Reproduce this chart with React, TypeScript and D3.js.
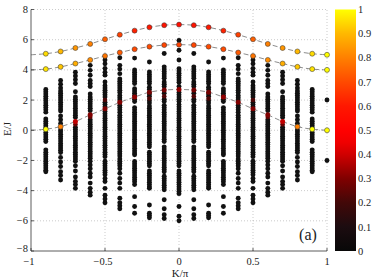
import React from "react";
import * as d3 from "d3";

// ---- data ----
const xTicks = [-1, -0.5, 0, 0.5, 1];
const yTicks = [-8, -6, -4, -2, 0, 2, 4, 6, 8];
const cbTicks = [0, 0.1, 0.2, 0.3, 0.4, 0.5, 0.6, 0.7, 0.8, 0.9, 1];

// colormap stops (value -> colour)
const cmapStops = [0, 0.1, 0.2, 0.3, 0.4, 0.45, 0.5, 0.6, 0.7, 0.8, 0.9, 1];
const cmapColors = ["#080808", "#1c0c10", "#420808", "#800000", "#d00000", "#f00000", "#ff0000", "#ff1800", "#ff4a00", "#ff8000", "#ffb800", "#ffff00"];

// dashed branch curves, sampled at K/π
const lineK = [-1, -0.9, -0.8, -0.7, -0.6, -0.5, -0.4, -0.3, -0.2, -0.1, 0, 0.1, 0.2, 0.3, 0.4, 0.5, 0.6, 0.7, 0.8, 0.9, 1];
const topE = [5.0, 5.07, 5.22, 5.45, 5.72, 6.03, 6.33, 6.6, 6.82, 6.96, 7.0, 6.96, 6.82, 6.6, 6.33, 6.03, 5.72, 5.45, 5.22, 5.07, 5.0];
const midE = [4.0, 4.05, 4.2, 4.42, 4.66, 4.92, 5.15, 5.37, 5.54, 5.64, 5.67, 5.64, 5.54, 5.37, 5.15, 4.92, 4.66, 4.42, 4.2, 4.05, 4.0];
const lowE = [0.0, 0.07, 0.24, 0.58, 1.02, 1.42, 1.85, 2.2, 2.52, 2.66, 2.7, 2.66, 2.52, 2.2, 1.85, 1.42, 1.02, 0.58, 0.24, 0.07, 0.0];
// weights of the coloured dots on the branches (K = -1 excluded)
const topW = [0, 0.95, 0.9, 0.84, 0.8, 0.74, 0.68, 0.62, 0.6, 0.58, 0.56, 0.58, 0.6, 0.62, 0.68, 0.74, 0.8, 0.84, 0.9, 0.95, 1.0];
const midW = [0, 0.96, 0.92, 0.88, 0.82, 0.78, 0.73, 0.7, 0.7, 0.69, 0.68, 0.69, 0.7, 0.7, 0.73, 0.78, 0.82, 0.88, 0.92, 0.96, 1.0];
const lowW = [0, 1.0, 0.8, 0.38, 0.3, 0.3, 0.3, 0.32, 0.28, 0.28, 0.32, 0.28, 0.28, 0.32, 0.3, 0.3, 0.3, 0.38, 0.8, 1.0, 1.0];

// black (zero-weight) eigenvalues per column |K/π|
const e09 = [2.7, 2.55, 2.4, 2.25, 2.1, 1.95, 1.8, 1.65, 1.5, 1.35, 1.2, 0.75, 0.6, 0.45, 0.3, 0.15, -0.15, -0.3, -0.45, -0.6, -0.75, -1.3, -1.45, -1.6, -1.75, -1.9, -2.05, -2.2, -2.35, -2.5, -2.65, -2.75];
const e08 = [3.3, 3.05, 2.8, 2.6, 2.45, 2.3, 2.15, 2.0, 1.85, 1.7, 1.55, 1.4, 1.28, 0.95, 0.7, 0.45, 0.02, -0.12, -0.27, -0.42, -0.57, -0.72, -0.87, -1.02, -1.17, -1.32, -1.47, -1.8, -2.1, -2.4, -2.75, -3.0, -3.3];
const e07 = [3.85, 3.6, 3.35, 3.1, 2.55, 2.2, 2.05, 1.9, 1.75, 1.6, 1.45, 1.3, 1.15, 1.0, 0.85, 0.2, 0.05, -0.1, -0.25, -0.4, -0.55, -0.7, -0.85, -1.0, -1.15, -1.3, -1.45, -1.6, -1.75, -1.9, -2.05, -2.35, -2.7, -3.1, -3.4, -3.6, -3.85];
const e06 = [4.3, 3.97, 3.64, 3.3, 3.1, 2.9, 2.4, 2.2, 2.05, 1.9, 1.75, 1.6, 1.45, 1.3, 0.7, 0.55, 0.4, 0.25, 0.1, -0.05, -0.2, -0.35, -0.5, -0.65, -0.8, -0.95, -1.1, -1.25, -1.4, -1.55, -1.7, -1.85, -2.05, -2.3, -2.55, -2.85, -3.1, -3.5, -3.85, -4.1, -4.3];
const e05 = [4.65, 4.4, 4.1, 3.85, 3.65, 3.2, 2.95, 2.8, 2.65, 2.5, 2.35, 2.2, 1.85, 1.7, 1.55, 1.25, 1.1, 0.95, 0.8, 0.65, 0.5, 0.35, 0.2, 0.05, -0.1, -0.25, -0.4, -0.55, -0.7, -0.85, -1.0, -1.15, -1.3, -1.45, -1.6, -1.75, -2.05, -2.2, -2.35, -2.5, -2.65, -2.8, -2.95, -3.2, -3.4, -3.85, -4.3, -4.55, -4.8];
const e04 = [4.8, 4.3, 4.05, 3.75, 3.4, 3.25, 3.1, 2.95, 2.8, 2.65, 2.5, 2.3, 2.15, 2.0, 1.65, 1.5, 1.35, 1.2, 1.0, 0.85, 0.7, 0.55, 0.4, 0.25, 0.1, -0.05, -0.2, -0.35, -0.5, -0.65, -0.8, -0.95, -1.1, -1.25, -1.4, -1.55, -1.7, -1.9, -2.05, -2.2, -2.35, -2.55, -2.85, -3.2, -3.5, -3.85, -4.5, -4.8, -5.0, -5.2];
const e03 = [4.78, 4.0, 3.85, 3.7, 3.55, 3.4, 3.25, 3.1, 2.75, 2.6, 2.45, 2.3, 2.05, 1.9, 1.5, 1.35, 1.2, 1.05, 0.9, 0.75, 0.6, 0.45, 0.3, 0.15, 0.0, -0.15, -0.3, -0.45, -0.6, -0.75, -0.9, -1.05, -1.2, -1.35, -1.5, -1.63, -2.07, -2.22, -2.37, -2.52, -2.67, -2.82, -2.97, -3.12, -3.27, -3.42, -3.6, -4.4, -5.05, -5.5];
const e02 = [4.52, 3.86, 3.7, 3.55, 3.4, 3.25, 3.1, 2.85, 2.7, 2.4, 2.25, 1.95, 1.8, 1.6, 1.45, 1.3, 1.15, 1.0, 0.85, 0.7, 0.55, 0.4, 0.25, 0.1, -0.05, -0.2, -0.35, -0.5, -0.65, -0.8, -0.95, -1.1, -1.45, -1.6, -1.75, -1.9, -2.05, -2.2, -2.35, -2.7, -2.85, -3.0, -3.15, -3.3, -3.45, -3.6, -3.75, -3.85, -4.95, -5.5, -5.65, -5.8];
const e01 = [5.08, 4.2, 4.05, 3.9, 3.75, 3.6, 3.45, 3.2, 3.05, 2.9, 2.45, 2.05, 1.9, 1.65, 1.5, 1.35, 1.2, 1.05, 0.9, 0.75, 0.6, 0.45, 0.3, 0.15, 0.0, -0.15, -0.3, -0.45, -0.6, -0.75, -1.1, -1.25, -1.4, -1.55, -1.7, -1.85, -2.0, -2.15, -2.3, -2.45, -2.6, -2.75, -3.05, -3.2, -3.35, -3.5, -3.65, -3.8, -3.95, -4.6, -5.2, -5.6, -5.85];
const e00 = [5.95, 5.3, 4.65, 4.08, 3.93, 3.78, 3.63, 3.48, 3.33, 3.18, 2.9, 2.5, 2.35, 2.2, 2.05, 1.9, 1.7, 1.55, 1.4, 1.25, 1.1, 0.95, 0.8, 0.65, 0.5, 0.35, 0.2, 0.05, -0.1, -0.25, -0.4, -0.55, -0.7, -0.85, -1.0, -1.15, -1.3, -1.45, -1.6, -1.75, -1.9, -2.05, -2.2, -2.35, -2.7, -2.85, -3.0, -3.15, -3.3, -3.45, -3.6, -3.75, -3.9, -4.05, -4.2, -5.05, -5.7, -6.0];
const e10 = [2.0, -2.0];

const columnK = [-0.9, -0.8, -0.7, -0.6, -0.5, -0.4, -0.3, -0.2, -0.1, 0, 0.1, 0.2, 0.3, 0.4, 0.5, 0.6, 0.7, 0.8, 0.9, 1];
const columnE = [e09, e08, e07, e06, e05, e04, e03, e02, e01, e00, e01, e02, e03, e04, e05, e06, e07, e08, e09, e10];

// faintly weighted extra dots (dark red)
const tintK = [-0.7, 0.7, -0.6, 0.6, -0.5, 0.5, -0.2, 0.2, -0.1, 0.1];
const tintE = [0.4, 0.4, 0.88, 0.88, 2.0, 2.0, 2.1, 2.1, 2.25, 2.25];
const tintW = [0.26, 0.26, 0.24, 0.24, 0.22, 0.22, 0.22, 0.22, 0.22, 0.22];

const W = 374, H = 280;
const FONT = "'Liberation Serif', 'DejaVu Serif', serif";
const fmt = (v: number) => (v < 0 ? "\u2212" + String(Math.abs(v)) : String(v));

export default function App() {
  const x = d3.scaleLinear().domain([-1, 1]).range([31, 327]);
  const y = d3.scaleLinear().domain([-8, 8]).range([251, 9.5]);
  const cmap = d3.scaleLinear<string>().domain(cmapStops).range(cmapColors).interpolate(d3.interpolateRgb).clamp(true);
  const cbY = d3.scaleLinear().domain([0, 1]).range([251, 9.5]);

  const line = d3
    .line<number>()
    .x((_, i) => x(lineK[i]))
    .y((d) => y(d))
    .curve(d3.curveCatmullRom);

  const blackDots: { k: number; e: number }[] = [];
  columnK.forEach((k, i) => columnE[i].forEach((e) => blackDots.push({ k, e })));

  const coloured: { k: number; e: number; w: number; low: boolean }[] = [];
  lineK.forEach((k, i) => {
    if (i === 0) return;
    coloured.push({ k, e: lowE[i], w: lowW[i], low: true });
    coloured.push({ k, e: midE[i], w: midW[i], low: false });
    coloured.push({ k, e: topE[i], w: topW[i], low: false });
  });

  const [x0, x1] = x.range();
  const [y0, y1] = y.range();

  return (
    <svg width={W} height={H} style={{ position: "absolute", left: 0, top: 0, display: "block", background: "#fff" }} fontFamily={FONT}>
      <defs>
        <linearGradient id="cb" x1="0" y1="1" x2="0" y2="0">
          {cmapStops.map((s, i) => (
            <stop key={i} offset={s} stopColor={cmapColors[i]} />
          ))}
        </linearGradient>
      </defs>
      {/* grid */}
      <g stroke="#b4b4b4" strokeWidth={0.7} strokeDasharray="1,2">
        {xTicks.slice(1).map((t) => (
          <line key={"gx" + t} x1={x(t)} x2={x(t)} y1={y0} y2={y1} />
        ))}
        {yTicks.slice(1).map((t) => (
          <line key={"gy" + t} x1={x0} x2={x1} y1={y(t)} y2={y(t)} />
        ))}
      </g>
      {/* black dots */}
      <g fill="#111">
        {blackDots.map((d, i) => (
          <circle key={i} cx={x(d.k)} cy={y(d.e)} r={2.45} />
        ))}
      </g>
      {/* dashed branches */}
      <g fill="none" stroke="#6e6e6e" strokeWidth={0.8} strokeDasharray="5,3">
        <path d={line(topE) || ""} />
        <path d={line(midE) || ""} />
        <path d={line(lowE) || ""} />
      </g>
      {/* tinted dots */}
      {tintK.map((k, i) => (
        <circle key={"t" + i} cx={x(k)} cy={y(tintE[i])} r={2.3} fill={cmap(tintW[i])} />
      ))}
      {/* coloured branch dots */}
      {coloured.map((d, i) => (
        <circle
          key={"c" + i}
          cx={x(d.k)}
          cy={y(d.e)}
          r={2.5}
          fill={cmap(d.w)}
          stroke={d.low && d.w < 0.5 ? "none" : "#3a3a3a"}
          strokeWidth={0.55}
        />
      ))}
      {/* axes */}
      <g stroke="#333" strokeWidth={0.8}>
        <line x1={x0} x2={x0} y1={y0} y2={y1} />
        <line x1={x0} x2={x1} y1={y0} y2={y0} />
        {yTicks.map((t) => (
          <line key={"ty" + t} x1={x0} x2={x0 + 3} y1={y(t)} y2={y(t)} />
        ))}
        {xTicks.map((t) => (
          <line key={"tx" + t} x1={x(t)} x2={x(t)} y1={y0} y2={y0 - 3} />
        ))}
      </g>
      <g fontSize={10.5} fill="#222">
        {yTicks.map((t) => (
          <text key={"ly" + t} x={x0 - 3} y={t === -8 ? y(t) + 1 : y(t) + 3.6} textAnchor="end">
            {fmt(t)}
          </text>
        ))}
        {xTicks.map((t) => (
          <text key={"lx" + t} x={x(t) - (t < 0 ? 2 : 0)} y={264.5} textAnchor="middle">
            {fmt(t)}
          </text>
        ))}
      </g>
      <g fontSize={11} fill="#222">
        <text x={180} y={277} textAnchor="middle">K/π</text>
        <text transform={`translate(11,129) rotate(-90)`} textAnchor="middle">E/J</text>
      </g>
      <text x={308} y={240} fontSize={16} textAnchor="middle" fill="#222">(a)</text>
      {/* colorbar */}
      <rect x={335} y={cbY(1)} width={21} height={cbY(0) - cbY(1)} fill="url(#cb)" />
      <g fontSize={10.5} fill="#222">
        {cbTicks.map((t) => (
          <text key={"cb" + t} x={358} y={cbY(t)} dy="0.35em">
            {String(t)}
          </text>
        ))}
      </g>
    </svg>
  );
}
